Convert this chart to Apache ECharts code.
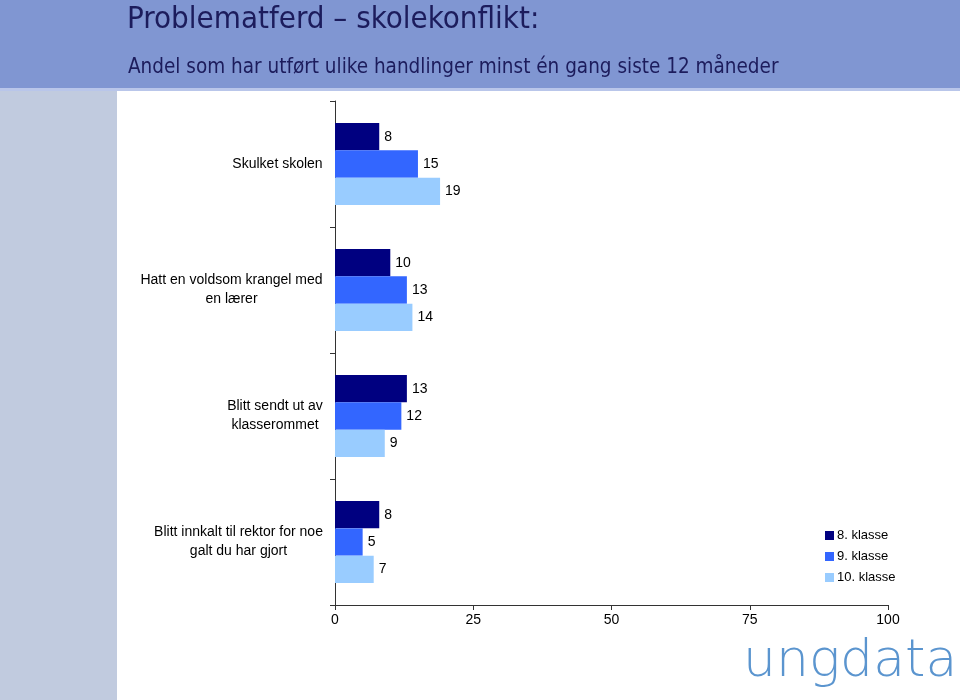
<!DOCTYPE html>
<html>
<head>
<meta charset="utf-8">
<script src="https://cdn.jsdelivr.net/npm/echarts@6/dist/echarts.min.js"></script>
<style>
html,body{margin:0;padding:0;background:#fff;}
#c{width:960px;height:700px;}
</style>
</head>
<body>
<div id="c"></div>
<script>
const categories = [
  'Skulket skolen',
  'Hatt en voldsom krangel med\nen lærer',
  'Blitt sendt ut av\nklasserommet',
  'Blitt innkalt til rektor for noe\ngalt du har gjort'
];
const seriesNames = ['8. klasse', '9. klasse', '10. klasse'];
const grade8 = [8, 10, 13, 8];
const grade9 = [15, 13, 12, 5];
const grade10 = [19, 14, 9, 7];
const xTicks = [0, 25, 50, 75, 100];

const colors = ['#000080', '#3366ff', '#99ccff'];
const labelFont = '14px "Liberation Sans", Arial, sans-serif';

// measure widest line per category so lines can be centred within the block
const cv = document.createElement('canvas').getContext('2d');
cv.font = labelFont;
const rich = {};
categories.forEach((c, i) => {
  const w = Math.max(...c.split('\n').map(l => cv.measureText(l).width));
  rich['c' + i] = { width: Math.ceil(w), align: 'center', fontSize: 14, lineHeight: 19,
    fontFamily: '"Liberation Sans", Arial, sans-serif', color: '#000' };
});

const chart = echarts.init(document.getElementById('c'));
const dataSets = [grade8, grade9, grade10];

chart.setOption({
  animation: false,
  textStyle: { fontFamily: '"Liberation Sans", Arial, sans-serif' },
  graphic: [
    { type: 'rect', left: 0, top: 0, z: -10, shape: { width: 960, height: 90 }, style: { fill: '#8096d2' } },
    { type: 'rect', left: 0, top: 88, z: -9, shape: { width: 960, height: 3 }, style: { fill: '#b9c6ea' } },
    { type: 'rect', left: 0, top: 91, z: -10, shape: { width: 117, height: 609 }, style: { fill: '#c1cbdf' } },
    { type: 'text', left: 127, top: 4, style: { text: 'Problematferd – skolekonflikt:', fill: '#1c1c5c',
      font: '31px "DejaVu Sans Condensed", "DejaVu Sans", sans-serif' } },
    { type: 'text', left: 128, top: 57, style: { text: 'Andel som har utført ulike handlinger minst én gang siste 12 måneder', fill: '#1c1c5c',
      font: '20.5px "DejaVu Sans Condensed", "DejaVu Sans", sans-serif' } },
    { type: 'text', x: 743, y: 636, style: { text: 'ungdata', fill: '#5b95cf',
      font: '200 52px "DejaVu Sans", sans-serif' } }
  ],
  legend: {
    orient: 'vertical', left: 820, top: 524,
    itemWidth: 9, itemHeight: 9, itemGap: 8,
    icon: 'rect',
    textStyle: { fontSize: 13, color: '#000', padding: [0, 0, 0, -2] },
    data: seriesNames
  },
  grid: { left: 335, right: 72, top: 101, bottom: 95, containLabel: false },
  xAxis: {
    type: 'value', min: xTicks[0], max: xTicks[xTicks.length - 1], interval: 25,
    axisLine: { show: true, lineStyle: { color: '#333', width: 1 } },
    axisTick: { show: true, length: 5, lineStyle: { color: '#333' } },
    axisLabel: { fontSize: 14, color: '#000', margin: 8 },
    splitLine: { show: false }
  },
  yAxis: {
    type: 'category', inverse: true, data: categories,
    axisLine: { show: true, lineStyle: { color: '#333', width: 1 } },
    axisTick: { show: true, length: 5, lineStyle: { color: '#333' } },
    axisLabel: {
      margin: 12, align: 'right',
      formatter: (v) => {
        const i = categories.indexOf(v);
        return v.split('\n').map(l => '{c' + i + '|' + l + '}').join('\n');
      },
      rich: rich
    }
  },
  series: seriesNames.map((n, k) => ({
    name: n, type: 'bar', data: dataSets[k],
    barGap: '0%', barCategoryGap: '35%',
    itemStyle: { color: colors[k] },
    label: { show: true, position: 'right', distance: 5, fontSize: 14, color: '#000' }
  }))
});
</script>
</body>
</html>
